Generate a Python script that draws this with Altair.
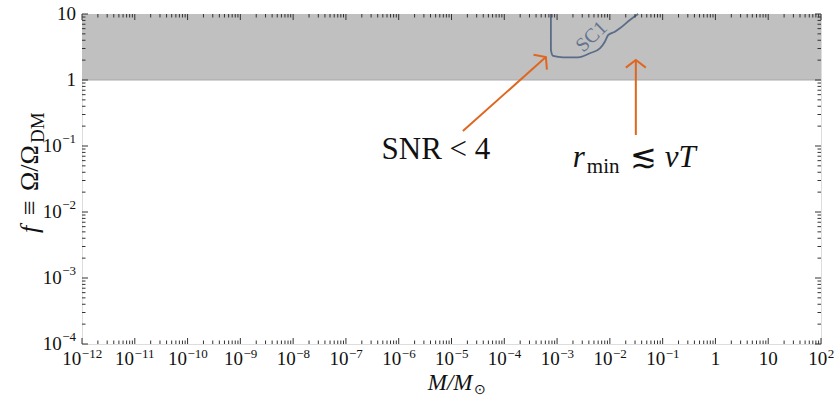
import altair as alt
import pandas as pd

# ---------------- data ----------------
x_decades = list(range(-12, 3))
x_label_base = ["10"] * 12 + ["1", "10", "10"]
x_label_exp = ["−12", "−11", "−10", "−9", "−8", "−7", "−6", "−5", "−4", "−3", "−2", "−1",
               "", "", "2"]
y_decades = list(range(-4, 2))
y_label_base = ["10", "10", "10", "10", "1", "10"]
y_label_exp = ["−4", "−3", "−2", "−1", "", ""]

# excluded band (f between 1 and 10 over whole mass range)
band_M = [1e-12, 1e2]
band_f = [1.0, 10.0]

# SC1 contour (log10 M, log10 f)
sc1_logM = [-3.117, -3.117, -3.074, -2.884, -2.600, -2.379, -2.189, -2.095,
            -2.032, -1.905, -1.811, -1.621, -1.464]
sc1_logf = [1.000, 0.455, 0.364, 0.344, 0.344, 0.405, 0.480, 0.580,
            0.682, 0.732, 0.783, 0.909, 1.000]
sc1_label_logM = -2.347
sc1_label_logf = 0.656

# arrows (log10 M, log10 f): tail -> head
arrow1_logM = [-4.784, -3.212]
arrow1_logf = [-0.773, 0.348]
arrow2_logM = [-1.508, -1.508]
arrow2_logf = [-0.833, 0.303]

# annotation anchors (log10 M, log10 f)
snr_logM, snr_logf = -5.295, -1.20
rmin_logM, rmin_logf = -2.701, -1.32

# ---------------- helpers ----------------
W, H = 739, 330
FONT = "Liberation Serif"
ORANGE = "#e0661f"
INK = "#111111"
XS = alt.Scale(type="log", domain=[1e-12, 1e2], nice=False)
YS = alt.Scale(type="log", domain=[1e-4, 10], nice=False)
BASE_FS, EXP_FS, EXP_RAISE = 19, 13, 7


def X(f="M"):
    return alt.X(f"{f}:Q", scale=XS, axis=None)


def Y(f="f"):
    return alt.Y(f"{f}:Q", scale=YS, axis=None)


def pt(m, f):
    return pd.DataFrame({"M": [10 ** m], "f": [10 ** f]})


def exp_width(s):
    return EXP_FS * sum(0.564 if ch == "−" else 0.5 for ch in s)


layers = []

# band
band = pd.DataFrame({"M": [band_M[0]], "M2": [band_M[1]], "f": [band_f[0]], "f2": [band_f[1]]})
layers.append(alt.Chart(band).mark_rect(color="#c0c0c0").encode(
    x=X(), x2="M2:Q", y=Y(), y2="f2:Q"))
layers.append(alt.Chart(band).mark_rule(color="#a9a9a9", strokeWidth=1).encode(
    x=X(), x2="M2:Q", y=Y()))

# SC1 curve
sc1 = pd.DataFrame({"M": [10 ** v for v in sc1_logM], "f": [10 ** v for v in sc1_logf],
                    "o": list(range(len(sc1_logM)))})
layers.append(alt.Chart(sc1).mark_line(color="#5a6d88", strokeWidth=1.8, interpolate="monotone").encode(
    x=X(), y=Y(), order="o:Q"))
layers.append(alt.Chart(pt(sc1_label_logM, sc1_label_logf)).mark_text(
    text="SC1", font=FONT, fontSize=20, color="#62758f", angle=316,
    align="center", baseline="middle").encode(x=X(), y=Y()))

# ticks (inward, all four sides)
xmaj = pd.DataFrame({"M": [10.0 ** d for d in x_decades]})
xmin = pd.DataFrame({"M": [k * 10.0 ** d for d in x_decades[:-1] for k in range(2, 10)]})
ymaj = pd.DataFrame({"f": [10.0 ** d for d in y_decades]})
ymin = pd.DataFrame({"f": [k * 10.0 ** d for d in y_decades[:-1] for k in range(2, 10)]})
TC = "#333333"
for df, ln in ((xmaj, 6), (xmin, 3.5)):
    layers.append(alt.Chart(df).mark_rule(color=TC, strokeWidth=1).encode(
        x=X(), y=alt.value(H), y2=alt.value(H - ln)))
    layers.append(alt.Chart(df).mark_rule(color=TC, strokeWidth=1).encode(
        x=X(), y=alt.value(0), y2=alt.value(ln)))
for df, ln in ((ymaj, 6), (ymin, 3.5)):
    layers.append(alt.Chart(df).mark_rule(color=TC, strokeWidth=1).encode(
        y=Y(), x=alt.value(0), x2=alt.value(ln)))
    layers.append(alt.Chart(df).mark_rule(color=TC, strokeWidth=1).encode(
        y=Y(), x=alt.value(W), x2=alt.value(W - ln)))

# x tick labels: base "10" + raised exponent, grouped by exponent width
xl = pd.DataFrame({"M": [10.0 ** d for d in x_decades], "base": x_label_base, "exp": x_label_exp})
xl["w"] = xl["exp"].map(exp_width)
XLAB_Y = H + 21
for w, grp in xl.groupby("w"):
    if w == 0:
        layers.append(alt.Chart(grp).mark_text(font=FONT, fontSize=BASE_FS, color=INK, align="center",
                                               baseline="alphabetic").encode(
            x=X(), y=alt.value(XLAB_Y), text="base:N"))
        continue
    split = BASE_FS * 0.5 - w / 2  # right edge of "10" relative to tick
    layers.append(alt.Chart(grp).mark_text(font=FONT, fontSize=BASE_FS, color=INK, align="right",
                                           baseline="alphabetic", dx=split).encode(
        x=X(), y=alt.value(XLAB_Y), text="base:N"))
    layers.append(alt.Chart(grp).mark_text(font=FONT, fontSize=EXP_FS, color=INK, align="left",
                                           baseline="alphabetic", dx=split + 0.5, dy=-EXP_RAISE).encode(
        x=X(), y=alt.value(XLAB_Y), text="exp:N"))

# y tick labels
yl = pd.DataFrame({"f": [10.0 ** d for d in y_decades], "base": y_label_base, "exp": y_label_exp})
yl["w"] = yl["exp"].map(exp_width)
YLAB_X = -6
for w, grp in yl.groupby("w"):
    layers.append(alt.Chart(grp).mark_text(font=FONT, fontSize=BASE_FS, color=INK, align="right",
                                           baseline="middle", dx=-w - (0.5 if w else 0)).encode(
        x=alt.value(YLAB_X), y=Y(), text="base:N"))
    if w > 0:
        layers.append(alt.Chart(grp).mark_text(font=FONT, fontSize=EXP_FS, color=INK, align="right",
                                               baseline="middle", dy=-EXP_RAISE).encode(
            x=alt.value(YLAB_X), y=Y(), text="exp:N"))

# arrows
CHEV = "M -1 0.76 L 0 0 L 1 0.76"
for lm, lf, ang in ((arrow1_logM, arrow1_logf, 48), (arrow2_logM, arrow2_logf, 0)):
    a = pd.DataFrame({"M": [10 ** v for v in lm], "f": [10 ** v for v in lf], "o": [0, 1]})
    layers.append(alt.Chart(a).mark_line(color=ORANGE, strokeWidth=2).encode(
        x=X(), y=Y(), order="o:Q"))
    layers.append(alt.Chart(pt(lm[1], lf[1])).mark_point(
        shape=CHEV, size=400, filled=False, stroke=ORANGE, strokeWidth=2, angle=ang, opacity=1).encode(
        x=X(), y=Y()))

# annotations
layers.append(alt.Chart(pt(snr_logM, snr_logf)).mark_text(
    text="SNR < 4", font=FONT, fontSize=31, color=INK, align="center",
    baseline="alphabetic").encode(x=X(), y=Y()))
rpt = pt(rmin_logM, rmin_logf)
for txt, size, style, dx, dy in (("r", 31, "italic", 0, 0), ("min", 21, "normal", 14, 6),
                                 ("≲", 32, "normal", 57, 0), ("vT", 31, "italic", 92, 0)):
    layers.append(alt.Chart(rpt).mark_text(
        text=txt, font=FONT, fontSize=size, fontStyle=style, color=INK, align="left",
        baseline="alphabetic", dx=dx, dy=dy).encode(x=X(), y=Y()))

# axis titles
one = pd.DataFrame({"a": [0]})
layers.append(alt.Chart(one).mark_text(text="M/M", font=FONT, fontSize=23, fontStyle="italic",
                                       color=INK, align="right", baseline="alphabetic").encode(
    x=alt.value(W / 2 + 21), y=alt.value(H + 46)))
layers.append(alt.Chart(one).mark_text(text="⊙", font=FONT, fontSize=14,
                                       color=INK, align="left", baseline="alphabetic").encode(
    x=alt.value(W / 2 + 22), y=alt.value(H + 50)))

ybase = 219
for txt, size, style, dx, dy in (("f", 26, "italic", 0, 0), ("≡", 26, "normal", 18, 0),
                                 ("Ω/Ω", 26, "normal", 42, 0), ("DM", 19, "normal", 90, 6)):
    layers.append(alt.Chart(one).mark_text(text=txt, font=FONT, fontSize=size, fontStyle=style,
                                           color=INK, align="left", baseline="alphabetic",
                                           angle=270, dx=dx, dy=dy).encode(
        x=alt.value(-44), y=alt.value(ybase)))

chart = alt.layer(*layers).properties(
    width=W, height=H,
    autosize=alt.AutoSizeParams(type="none"),
    padding={"left": 82, "top": 14, "right": 13, "bottom": 61},
).configure_view(stroke="#222222", strokeWidth=1).configure(background="white")

chart.save("out.html", embed_options={"renderer": "svg", "actions": False})
